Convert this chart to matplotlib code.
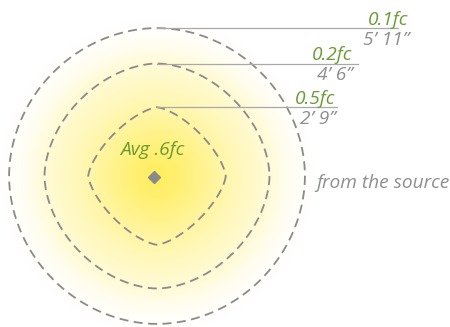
import numpy as np
import matplotlib
matplotlib.use("Agg")
import matplotlib.pyplot as plt

# ---- data ----
levels = ["0.1fc", "0.2fc", "0.5fc"]
distance_labels = ["5\u2019 11\u201d", "4\u2019 6\u201d", "2\u2019 9\u201d"]
distance_ft = [71 / 12, 4.5, 2.75]
shape_exp = [1.95, 1.8, 1.45]
avg_label = "Avg .6fc"
note = "from the source"

# ---- style / layout ----
W, H = 450, 327
cx, cy = 157, 176
px_per_ft = 25.0
green = "#6b9a33"
gray_txt = "#8e8e8e"
dash_col = "#8a8a8a"
lead_col = "#a9a9a9"
font = ["Open Sans", "DejaVu Sans"]
fs = 13.8

fig = plt.figure(figsize=(W / 100, H / 100), dpi=100)
ax = fig.add_axes([0, 0, 1, 1])
ax.set_xlim(0, W)
ax.set_ylim(H, 0)
ax.axis("off")

# radial glow
yy, xx = np.mgrid[0:H, 0:W] + 0.5
r = np.hypot(xx - cx, yy - cy)
alpha = np.exp(-(r / 92.0) ** 1.5)
fade = np.clip((160 - r) / 45.0, 0, 1)
alpha = alpha * (fade ** 1.3)
img = np.zeros((H, W, 4))
img[..., 0] = 1.0
img[..., 1] = 238 / 255
img[..., 2] = 95 / 255
img[..., 3] = alpha
ax.imshow(img, extent=(0, W, H, 0), zorder=0, interpolation="bilinear")

# contours
t = np.linspace(0, 2 * np.pi, 721)
lw = 1.3
for d, n in zip(distance_ft, shape_exp):
    R = d * px_per_ft
    rr = R * (np.abs(np.cos(t)) ** n + np.abs(np.sin(t)) ** n) ** (-1.0 / n)
    ax.plot(cx + rr * np.cos(t), cy + rr * np.sin(t), color=dash_col, lw=lw,
            linestyle=(0, (5.0, 3.0)), zorder=2)

# leaders and labels
line_end = [398, 358, 337]
text_right = [408, 352, 335]
for lev, dl, d, xe, xr in zip(levels, distance_labels, distance_ft, line_end, text_right):
    ytop = cy - d * px_per_ft
    ax.plot([cx, xe], [ytop, ytop], color=lead_col, lw=0.9, zorder=3)
    ax.text(xr, ytop - 3.5, lev, color=green, fontsize=fs, style="italic",
            family=font, ha="right", va="baseline")
    ax.text(xr + 1, ytop + 17, dl, color=gray_txt, fontsize=fs, style="italic",
            family=font, ha="right", va="baseline")

ax.plot([154], [177], marker="D", ms=6, color="#8a8a8a", zorder=4)
ax.text(152, 155, avg_label, color=green, fontsize=fs, style="italic",
        family=font, ha="center", va="baseline")
ax.text(316, 188, note, color=gray_txt, fontsize=fs, style="italic",
        family=font, ha="left", va="baseline")

fig.savefig("out.png", dpi=100)
